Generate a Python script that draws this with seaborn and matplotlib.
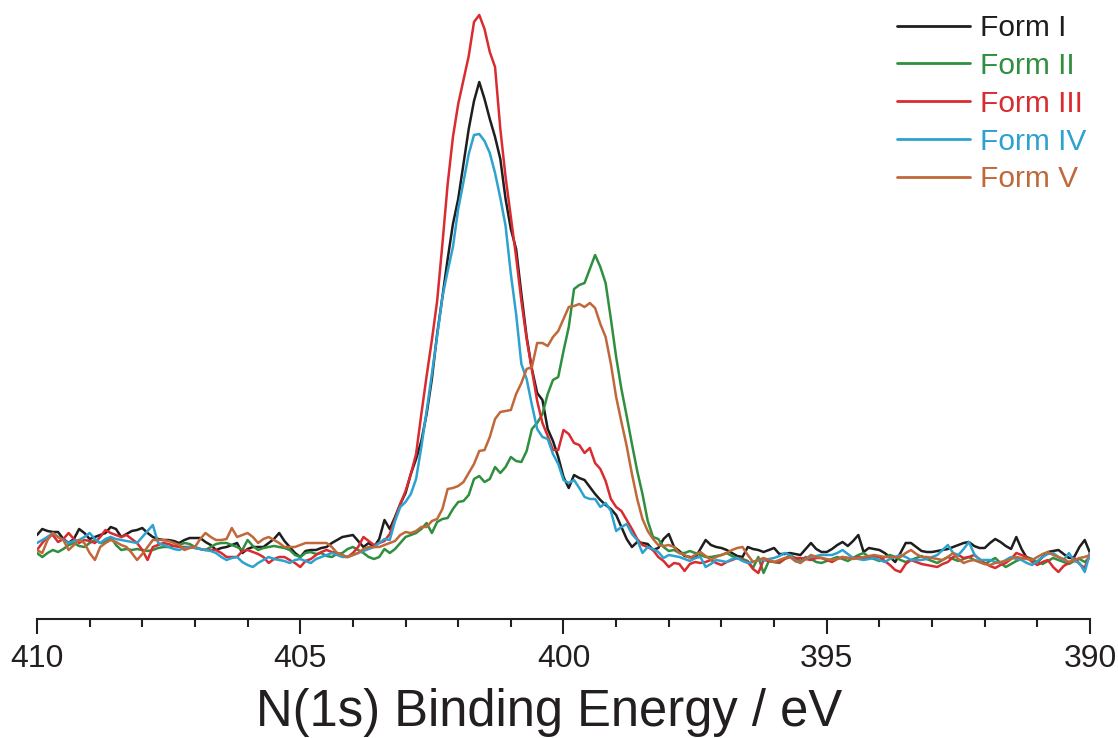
import numpy as np
import pandas as pd
import matplotlib
matplotlib.use("Agg")
import matplotlib.pyplot as plt
from matplotlib.ticker import MultipleLocator
import seaborn as sns

# Binding energy grid (eV), 0.1 eV step from 410 to 390
energy = np.round(np.linspace(410.0, 390.0, 201), 1)

series_names = ["Form I", "Form II", "Form III", "Form IV", "Form V"]
colors = ["#1e1e1e", "#2f8f3f", "#d92b30", "#2ea2cf", "#c0683a"]

form_I = [
    84, 90, 88, 87, 87, 80, 76, 80, 90, 86,
    80, 82, 84, 86, 92, 90, 82, 85, 88, 89,
    91, 86, 82, 80, 79, 79, 78, 76, 79, 81,
    81, 81, 77, 74, 69, 71, 72, 74, 76, 66,
    70, 72, 72, 72, 76, 80, 86, 78, 72, 66,
    62, 68, 69, 69, 71, 72, 76, 79, 82, 83,
    84, 78, 72, 76, 72, 80, 99, 90, 102, 115,
    126, 145, 160, 178, 205, 240, 285, 322, 360, 395,
    420, 455, 490, 518, 537, 520, 500, 482, 460, 420,
    390, 370, 325, 282, 250, 226, 219, 190, 178, 162,
    142, 131, 144, 141, 139, 132, 125, 119, 114, 110,
    104, 92, 80, 72, 77, 76, 75, 69, 71, 80,
    85, 72, 68, 63, 62, 61, 70, 79, 74, 72,
    71, 69, 66, 63, 62, 72, 70, 69, 67, 69,
    71, 65, 65, 66, 65, 64, 70, 76, 70, 67,
    67, 70, 74, 77, 73, 78, 84, 67, 71, 70,
    69, 66, 62, 57, 66, 76, 76, 72, 68, 67,
    67, 68, 69, 70, 72, 74, 76, 77, 73, 71,
    71, 76, 80, 77, 73, 70, 82, 70, 61, 59,
    57, 62, 67, 68, 69, 65, 61, 62, 72, 79,
    66,
]

form_II = [
    66, 62, 66, 69, 67, 70, 74, 76, 73, 72,
    76, 79, 76, 77, 82, 74, 69, 70, 69, 70,
    69, 68, 69, 71, 72, 72, 73, 74, 76, 75,
    72, 70, 69, 72, 75, 76, 76, 74, 72, 69,
    79, 73, 69, 71, 72, 73, 72, 71, 69, 64,
    62, 66, 67, 65, 66, 63, 62, 65, 66, 70,
    72, 69, 66, 62, 60, 62, 70, 66, 70, 76,
    82, 84, 86, 90, 96, 86, 97, 100, 101, 110,
    117, 118, 124, 140, 143, 137, 140, 152, 146, 152,
    162, 158, 157, 168, 190, 196, 205, 225, 239, 242,
    268, 292, 330, 334, 336, 350, 364, 352, 336, 300,
    262, 230, 203, 175, 148, 125, 98, 82, 80, 72,
    68, 69, 66, 66, 68, 66, 64, 62, 62, 63,
    64, 66, 63, 61, 60, 58, 51, 62, 46, 58,
    57, 56, 60, 64, 61, 58, 62, 60, 57, 56,
    58, 60, 62, 60, 58, 61, 64, 66, 62, 60,
    58, 62, 64, 62, 59, 57, 59, 61, 63, 60,
    58, 56, 59, 62, 60, 58, 60, 62, 59, 57,
    55, 58, 61, 56, 52, 55, 58, 60, 62, 60,
    57, 55, 58, 61, 59, 57, 55, 58, 60, 57,
    62,
]

form_III = [
    69, 76, 82, 84, 77, 80, 86, 80, 76, 79,
    78, 76, 82, 89, 86, 84, 82, 84, 80, 76,
    69, 59, 72, 74, 76, 75, 73, 72, 72, 72,
    71, 70, 69, 69, 69, 66, 62, 62, 62, 68,
    69, 67, 65, 62, 56, 60, 62, 62, 59, 56,
    52, 58, 60, 64, 67, 69, 67, 66, 63, 62,
    66, 72, 82, 78, 74, 76, 78, 85, 100, 115,
    128, 145, 165, 205, 243, 279, 318, 375, 435, 482,
    515, 539, 563, 597, 604, 590, 567, 552, 490, 442,
    402, 362, 318, 280, 249, 218, 196, 183, 169, 169,
    189, 185, 176, 174, 166, 171, 156, 150, 138, 120,
    112, 108, 99, 90, 80, 74, 72, 69, 62, 58,
    52, 56, 55, 48, 55, 57, 56, 57, 59, 56,
    54, 57, 59, 61, 59, 57, 50, 46, 59, 58,
    57, 57, 60, 62, 61, 61, 60, 59, 61, 61,
    59, 57, 60, 62, 61, 61, 62, 61, 61, 62,
    62, 58, 54, 49, 47, 55, 59, 57, 55, 54,
    53, 52, 55, 57, 62, 64, 61, 62, 64, 60,
    56, 53, 51, 54, 56, 60, 66, 64, 62, 57,
    54, 57, 59, 52, 47, 53, 56, 61, 55, 51,
    66,
]

form_IV = [
    76, 79, 82, 86, 82, 79, 76, 78, 79, 82,
    86, 80, 76, 80, 82, 80, 79, 78, 77, 76,
    82, 88, 94, 76, 74, 72, 70, 69, 71, 72,
    71, 70, 69, 68, 66, 62, 59, 61, 62, 57,
    54, 52, 56, 59, 62, 60, 59, 58, 56, 59,
    60, 58, 56, 60, 62, 64, 66, 64, 62, 62,
    64, 66, 68, 70, 72, 76, 80, 79, 98, 112,
    117, 125, 140, 172, 208, 245, 283, 322, 348, 372,
    410, 437, 465, 484, 485, 478, 466, 446, 421, 393,
    345, 305, 255, 240, 214, 190, 182, 180, 165, 155,
    139, 136, 139, 131, 122, 120, 120, 112, 116, 108,
    88, 92, 95, 85, 79, 66, 72, 70, 67, 61,
    64, 63, 62, 60, 58, 61, 62, 52, 55, 59,
    58, 57, 60, 61, 58, 56, 57, 59, 59, 60,
    61, 63, 66, 64, 58, 57, 60, 62, 63, 64,
    64, 64, 66, 69, 65, 61, 60, 59, 60, 61,
    59, 57, 60, 62, 64, 62, 59, 59, 59, 60,
    62, 64, 69, 74, 66, 64, 70, 77, 65, 59,
    59, 59, 57, 56, 59, 62, 60, 59, 56, 54,
    58, 62, 65, 66, 62, 59, 66, 58, 56, 47,
    66,
]

form_V = [
    69, 66, 79, 86, 82, 79, 69, 74, 79, 76,
    66, 59, 72, 76, 79, 77, 74, 72, 66, 59,
    65, 72, 79, 79, 79, 78, 76, 74, 69, 71,
    72, 80, 86, 82, 79, 79, 80, 91, 82, 84,
    86, 82, 76, 80, 82, 79, 76, 72, 72, 72,
    74, 76, 76, 76, 76, 76, 72, 66, 64, 62,
    64, 66, 70, 72, 72, 72, 74, 76, 78, 84,
    87, 86, 88, 92, 92, 98, 100, 110, 130, 131,
    133, 137, 146, 155, 168, 169, 182, 200, 207, 208,
    209, 225, 236, 250, 252, 276, 276, 273, 282, 288,
    300, 312, 313, 315, 312, 316, 311, 295, 282, 255,
    222, 197, 173, 145, 120, 100, 88, 80, 74, 73,
    74, 72, 66, 64, 61, 64, 67, 63, 59, 62,
    64, 66, 69, 71, 72, 64, 57, 59, 61, 59,
    57, 59, 61, 62, 58, 56, 60, 64, 62, 61,
    60, 59, 60, 62, 61, 60, 61, 62, 63, 64,
    63, 62, 62, 62, 62, 66, 69, 65, 62, 62,
    61, 60, 59, 62, 66, 60, 56, 58, 59, 57,
    55, 54, 56, 57, 58, 60, 62, 61, 60, 59,
    62, 65, 67, 64, 62, 60, 57, 59, 61, 62,
    64,
]

all_series = [form_I, form_II, form_III, form_IV, form_V]
frames = []
for name, vals in zip(series_names, all_series):
    frames.append(pd.DataFrame({"energy": energy, "intensity": vals, "form": name}))
df = pd.concat(frames, ignore_index=True)

sns.set_style("white")
plt.rcParams["font.family"] = ["Liberation Sans", "DejaVu Sans"]
text_color = "#231f20"

W, H = 1118, 738
fig = plt.figure(figsize=(W / 100, H / 100), dpi=100)
ax = fig.add_axes([37 / W, 1 - 619 / H, (1090 - 37) / W, 619 / H])

sns.lineplot(data=df, x="energy", y="intensity", hue="form",
             hue_order=series_names, palette=dict(zip(series_names, colors)),
             errorbar=None, linewidth=1.8, ax=ax, legend=True)

ax.set_xlim(410, 390)
ax.set_ylim(0, 619)
ax.set_yticks([])
ax.set_ylabel("")
for s in ["left", "top", "right"]:
    ax.spines[s].set_visible(False)
ax.spines["bottom"].set_linewidth(1.5)
ax.spines["bottom"].set_color(text_color)

ax.xaxis.set_major_locator(MultipleLocator(5))
ax.xaxis.set_minor_locator(MultipleLocator(1))
ax.tick_params(axis="x", which="major", direction="out", length=11, width=1.5,
               labelsize=23, pad=7, colors=text_color, bottom=True)
ax.tick_params(axis="x", which="minor", direction="out", length=5.5, width=1.5,
               colors=text_color, bottom=True)

ax.set_xlabel("N(1s) Binding Energy / eV", fontsize=36.5, color=text_color)
ax.xaxis.set_label_coords((549 - 37) / (1090 - 37), -0.112)
ax.xaxis.label.set_va("top")

handles, labels = ax.get_legend_handles_labels()
leg = ax.legend(handles, labels, loc="upper left",
                bbox_to_anchor=(897 / W, 1 - 14 / H), bbox_transform=fig.transFigure,
                frameon=False, fontsize=21.5, handlelength=2.45, handletextpad=0.33,
                labelspacing=0.33, borderpad=0, borderaxespad=0,
                labelcolor="linecolor")
for line in leg.get_lines():
    line.set_linewidth(2.0)

fig.savefig("out.png", dpi=100)
